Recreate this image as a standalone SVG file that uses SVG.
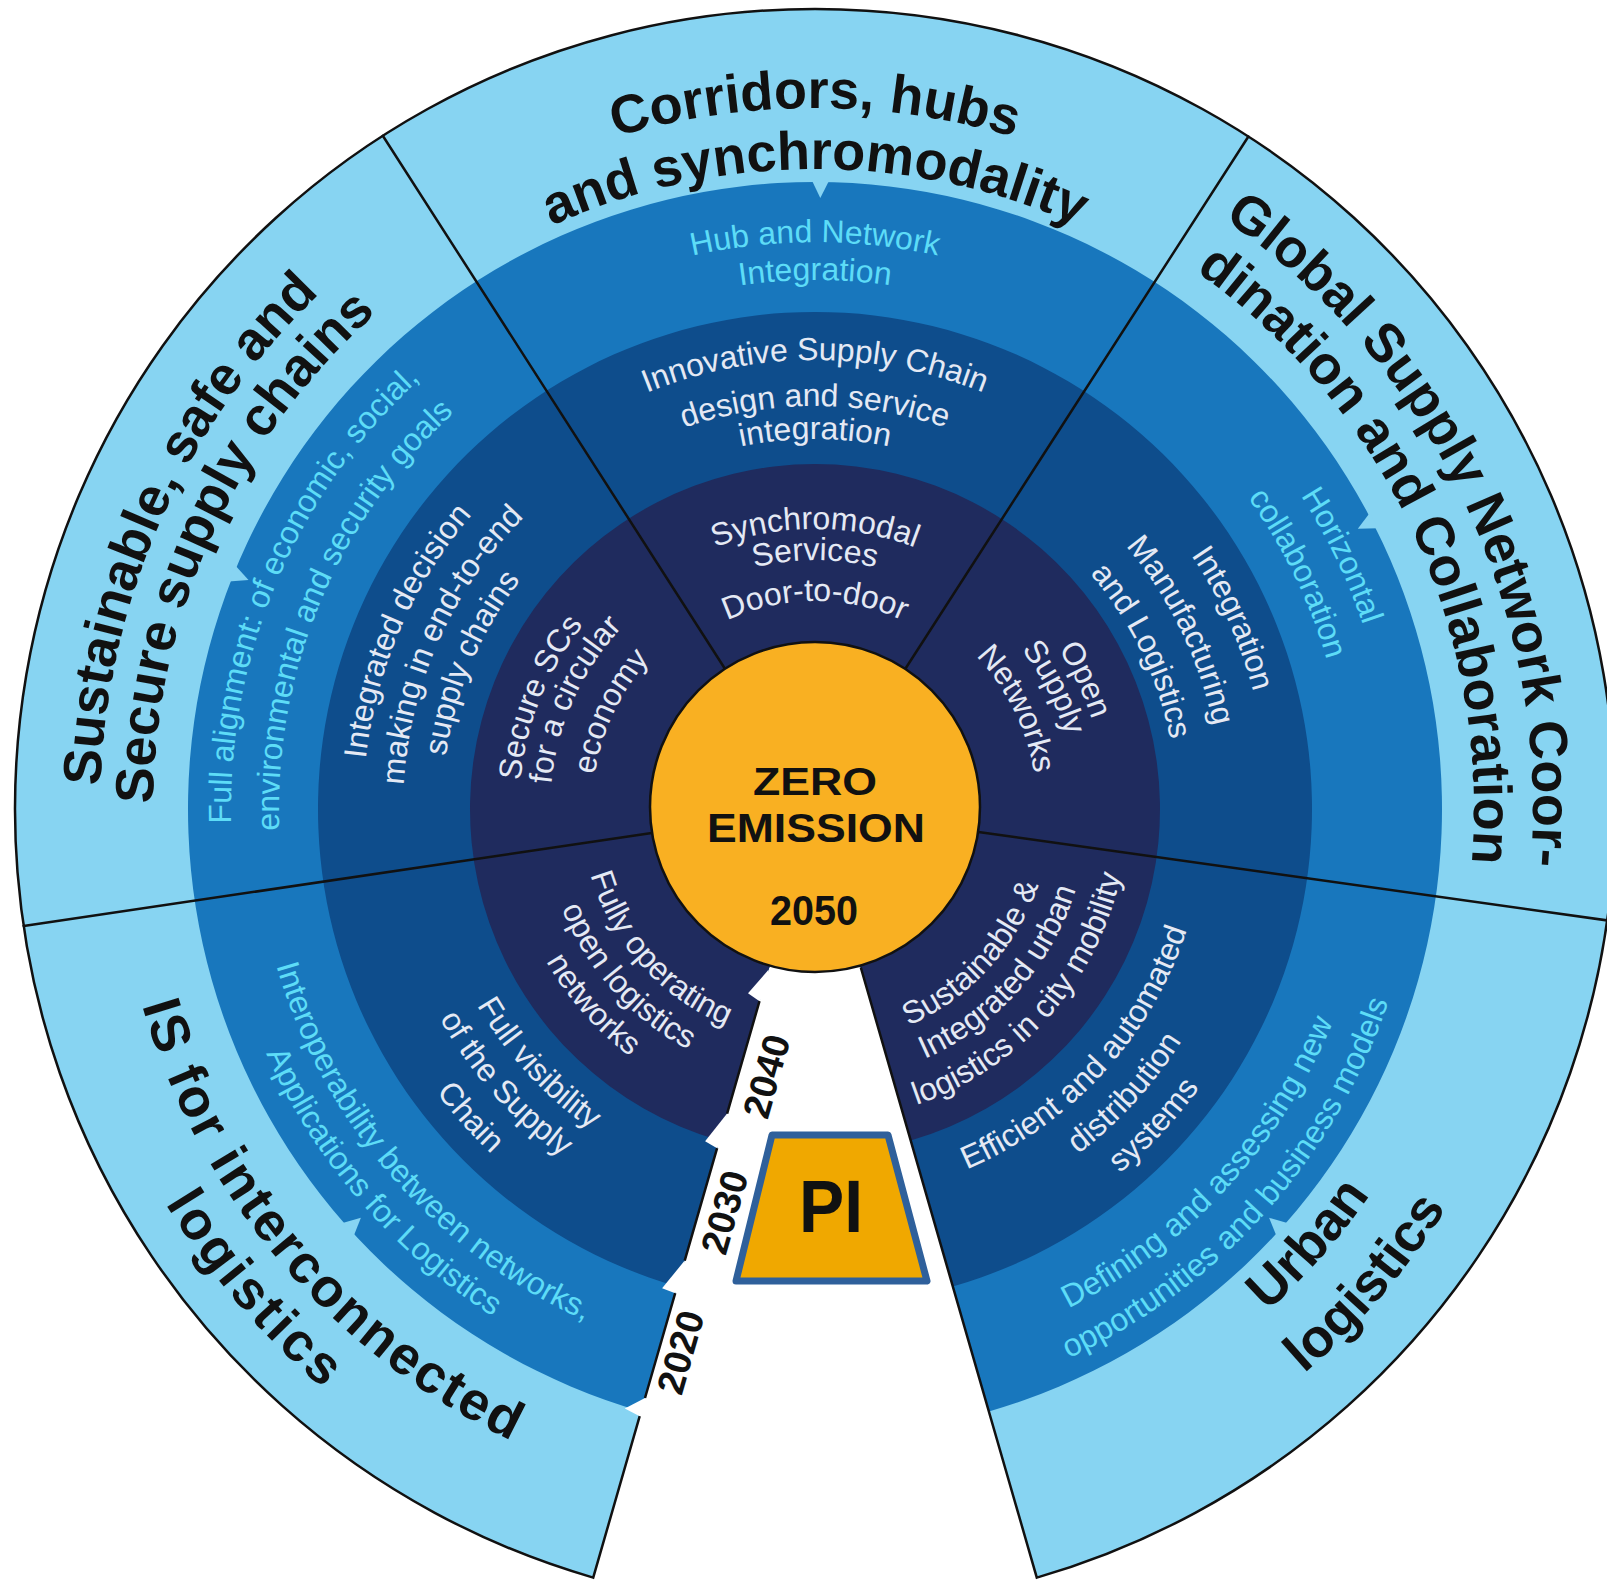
<svg xmlns="http://www.w3.org/2000/svg" xmlns:xlink="http://www.w3.org/1999/xlink" width="1607" height="1587" viewBox="0 0 1607 1587">
<style>
.ob{font-family:"Liberation Sans",Arial,sans-serif;font-weight:bold;font-size:54px;fill:#111;text-anchor:middle}
.cy{font-family:"Liberation Sans",Arial,sans-serif;font-size:32px;fill:#5ddcf7;text-anchor:middle}
.wh{font-family:"Liberation Sans",Arial,sans-serif;font-size:32px;fill:#e4e9f4;text-anchor:middle}
.yr{font-family:"Liberation Sans",Arial,sans-serif;font-weight:bold;font-size:38px;fill:#111;text-anchor:middle}
.ctr{font-family:"Liberation Sans",Arial,sans-serif;font-weight:bold;fill:#111;text-anchor:middle}
.dv{stroke:#111;stroke-width:2.5;fill:none;stroke-linecap:round}
.edge{stroke:#111;stroke-width:2.5;fill:none}
</style>
<defs>
<path id="o701" d="M-701 0A701 701 0 0 1 701 0"/>
<path id="o640" d="M-640 0A640 640 0 0 1 640 0"/>
<path id="o718" d="M-718 0A718 718 0 0 1 718 0"/>
<path id="o659" d="M-659 0A659 659 0 0 1 659 0"/>
<path id="o715" d="M-715 0A715 715 0 0 1 715 0"/>
<path id="o662" d="M-662 0A662 662 0 0 1 662 0"/>
<path id="o567" d="M-567 0A567 567 0 0 1 567 0"/>
<path id="o529" d="M-529 0A529 529 0 0 1 529 0"/>
<path id="o584" d="M-584 0A584 584 0 0 1 584 0"/>
<path id="o536" d="M-536 0A536 536 0 0 1 536 0"/>
<path id="o578" d="M-578 0A578 578 0 0 1 578 0"/>
<path id="o533" d="M-533 0A533 533 0 0 1 533 0"/>
<path id="o449" d="M-449 0A449 449 0 0 1 449 0"/>
<path id="o403" d="M-403 0A403 403 0 0 1 403 0"/>
<path id="o370" d="M-370 0A370 370 0 0 1 370 0"/>
<path id="o452" d="M-452 0A452 452 0 0 1 452 0"/>
<path id="o412" d="M-412 0A412 412 0 0 1 412 0"/>
<path id="o373" d="M-373 0A373 373 0 0 1 373 0"/>
<path id="o454" d="M-454 0A454 454 0 0 1 454 0"/>
<path id="o407" d="M-407 0A407 407 0 0 1 407 0"/>
<path id="o362" d="M-362 0A362 362 0 0 1 362 0"/>
<path id="o280" d="M-280 0A280 280 0 0 1 280 0"/>
<path id="o249" d="M-249 0A249 249 0 0 1 249 0"/>
<path id="o208" d="M-208 0A208 208 0 0 1 208 0"/>
<path id="o296" d="M-296 0A296 296 0 0 1 296 0"/>
<path id="o265" d="M-265 0A265 265 0 0 1 265 0"/>
<path id="o223" d="M-223 0A223 223 0 0 1 223 0"/>
<path id="o291" d="M-291 0A291 291 0 0 1 291 0"/>
<path id="o261" d="M-261 0A261 261 0 0 1 261 0"/>
<path id="o222" d="M-222 0A222 222 0 0 1 222 0"/>
<path id="i676" d="M-676 0A676 676 0 0 0 676 0"/>
<path id="i747" d="M-747 0A747 747 0 0 0 747 0"/>
<path id="i701" d="M-701 0A701 701 0 0 0 701 0"/>
<path id="i760" d="M-760 0A760 760 0 0 0 760 0"/>
<path id="i560" d="M-560 0A560 560 0 0 0 560 0"/>
<path id="i605" d="M-605 0A605 605 0 0 0 605 0"/>
<path id="i561" d="M-561 0A561 561 0 0 0 561 0"/>
<path id="i601" d="M-601 0A601 601 0 0 0 601 0"/>
<path id="i391" d="M-391 0A391 391 0 0 0 391 0"/>
<path id="i434" d="M-434 0A434 434 0 0 0 434 0"/>
<path id="i475" d="M-475 0A475 475 0 0 0 475 0"/>
<path id="i430" d="M-430 0A430 430 0 0 0 430 0"/>
<path id="i473" d="M-473 0A473 473 0 0 0 473 0"/>
<path id="i236" d="M-236 0A236 236 0 0 0 236 0"/>
<path id="i273" d="M-273 0A273 273 0 0 0 273 0"/>
<path id="i313" d="M-313 0A313 313 0 0 0 313 0"/>
<path id="i234" d="M-234 0A234 234 0 0 0 234 0"/>
<path id="i272" d="M-272 0A272 272 0 0 0 272 0"/>
<path id="i309" d="M-309 0A309 309 0 0 0 309 0"/>
</defs>
<rect width="1607" height="1587" fill="#ffffff"/>
<g id="rings">
<path id="ring-outer" d="M815 809L1036.8 1577.6A800 800 0 1 0 593.2 1577.6Z" fill="#87d4f2"/>
<path id="ring-2020" d="M815 809L988.9 1411.4A627 627 0 1 0 641.1 1411.4Z" fill="#1877bd"/>
<path id="ring-2030" d="M815 809L952.8 1286.5A497 497 0 1 0 677.2 1286.5Z" fill="#0e4d8c"/>
<path id="ring-2040" d="M815 809L910.7 1140.5A345 345 0 1 0 719.3 1140.5Z" fill="#1f2b5e"/>
<g id="ring-notches" fill="#87d4f2">
<polygon points="811.7,180 820.3,198 829.3,180.2"/>
<polygon points="1369.9,512.7 1357.8,528.8 1377.9,528.3"/>
<polygon points="1288.2,1223.3 1269.1,1217.8 1276.6,1236.3"/>
<polygon points="353.5,1236.4 360.9,1217.8 341.7,1223.2"/>
<polygon points="228.6,581.5 248.5,580.1 235.1,565.2"/>
</g>
<g fill="#ffffff">
<polygon points="768.7,969.5 748,993.2 759.5,1001.2 767,990"/>
<polygon points="727.1,1113.6 705.1,1141.3 717.1,1148.2 726,1133"/>
<polygon points="684.7,1260.6 662.1,1288.2 675.2,1293.2 684,1278"/>
<polygon points="645,1398 624.8,1408.6 639.7,1416.2 646,1408"/>
</g>
<path class="edge" d="M759.5 1001.2L727.1 1113.6M717.1 1148.2L684.7 1260.6M675.2 1293.2L645 1398"/>
<path class="edge" stroke-width="3" stroke-linejoin="miter" d="M639.7 1416.2L593.2 1577.6A800 800 0 1 1 1036.8 1577.6L860.8 967.5"/>
</g>
<g id="dividers" class="dv">
<line x1="725.9" y1="670.2" x2="382.8" y2="135.8"/>
<line x1="904.4" y1="670.3" x2="1248.4" y2="136.5"/>
<line x1="651.8" y1="833.1" x2="23.6" y2="925.9"/>
<line x1="978.4" y1="832" x2="1607.2" y2="920.4"/>
</g>
<g id="center">
<circle cx="815" cy="807" r="165" fill="#f9b022" stroke="#111" stroke-width="2.5"/>
<text class="ctr" x="815" y="795" font-size="39" textLength="124" lengthAdjust="spacingAndGlyphs">ZERO</text>
<text class="ctr" x="816" y="842" font-size="40" textLength="218" lengthAdjust="spacingAndGlyphs">EMISSION</text>
<text class="ctr" x="814" y="925" font-size="42" textLength="88" lengthAdjust="spacingAndGlyphs">2050</text>
</g>
<g id="sector-top">
<text class="ob" transform="translate(815 809)"><textPath href="#o701" xlink:href="#o701" startOffset="50%">Corridors, hubs</textPath></text>
<text class="ob" transform="translate(815 809)"><textPath href="#o640" xlink:href="#o640" startOffset="50%">and synchromodality</textPath></text>
<text class="cy" transform="translate(815 809)"><textPath href="#o567" xlink:href="#o567" startOffset="50%">Hub and Network</textPath></text>
<text class="cy" transform="translate(815 809)"><textPath href="#o529" xlink:href="#o529" startOffset="50%">Integration</textPath></text>
<text class="wh" transform="translate(815 809)"><textPath href="#o449" xlink:href="#o449" startOffset="50%">Innovative Supply Chain</textPath></text>
<text class="wh" transform="translate(815 809)"><textPath href="#o403" xlink:href="#o403" startOffset="50%">design and service</textPath></text>
<text class="wh" transform="translate(815 809)"><textPath href="#o370" xlink:href="#o370" startOffset="50%">integration</textPath></text>
<text class="wh" transform="translate(815 809)"><textPath href="#o280" xlink:href="#o280" startOffset="50%">Synchromodal</textPath></text>
<text class="wh" transform="translate(815 809)"><textPath href="#o249" xlink:href="#o249" startOffset="50%">Services</textPath></text>
<text class="wh" transform="translate(815 809)"><textPath href="#o208" xlink:href="#o208" startOffset="50%">Door-to-door</textPath></text>
</g>
<g id="sector-upper-right">
<text class="ob" transform="translate(815 809) rotate(64.6)"><textPath href="#o718" xlink:href="#o718" startOffset="50%">Global Supply Network Coor-</textPath></text>
<text class="ob" transform="translate(815 809) rotate(65)"><textPath href="#o659" xlink:href="#o659" startOffset="50%">dination and Collaboration</textPath></text>
<text class="cy" transform="translate(815 809) rotate(64.3)"><textPath href="#o578" xlink:href="#o578" startOffset="50%">Horizontal</textPath></text>
<text class="cy" transform="translate(815 809) rotate(64)"><textPath href="#o533" xlink:href="#o533" startOffset="50%">collaboration</textPath></text>
<text class="wh" transform="translate(815 809) rotate(65.5)"><textPath href="#o454" xlink:href="#o454" startOffset="50%">Integration</textPath></text>
<text class="wh" transform="translate(815 809) rotate(64)"><textPath href="#o407" xlink:href="#o407" startOffset="50%">Manufacturing</textPath></text>
<text class="wh" transform="translate(815 809) rotate(64.2)"><textPath href="#o362" xlink:href="#o362" startOffset="50%">and Logistics</textPath></text>
<text class="wh" transform="translate(815 809) rotate(64.4)"><textPath href="#o291" xlink:href="#o291" startOffset="50%">Open</textPath></text>
<text class="wh" transform="translate(815 809) rotate(63)"><textPath href="#o261" xlink:href="#o261" startOffset="50%">Supply</textPath></text>
<text class="wh" transform="translate(815 809) rotate(63.6)"><textPath href="#o222" xlink:href="#o222" startOffset="50%">Networks</textPath></text>
</g>
<g id="sector-upper-left">
<text class="ob" transform="translate(815 809) rotate(-66)"><textPath href="#o715" xlink:href="#o715" startOffset="50%">Sustainable, safe and</textPath></text>
<text class="ob" transform="translate(815 809) rotate(-65.5)"><textPath href="#o662" xlink:href="#o662" startOffset="50%">Secure supply chains</textPath></text>
<text class="cy" transform="translate(815 809) rotate(-67)"><textPath href="#o584" xlink:href="#o584" startOffset="50%">Full alignment: of economic, social,</textPath></text>
<text class="cy" transform="translate(815 809) rotate(-67.3)"><textPath href="#o536" xlink:href="#o536" startOffset="50%">environmental and security goals</textPath></text>
<text class="wh" transform="translate(815 809) rotate(-66.5)"><textPath href="#o452" xlink:href="#o452" startOffset="50%">Integrated decision</textPath></text>
<text class="wh" transform="translate(815 809) rotate(-65.8)"><textPath href="#o412" xlink:href="#o412" startOffset="50%">making in end-to-end</textPath></text>
<text class="wh" transform="translate(815 809) rotate(-67)"><textPath href="#o373" xlink:href="#o373" startOffset="50%">supply chains</textPath></text>
<text class="wh" transform="translate(815 809) rotate(-68)"><textPath href="#o296" xlink:href="#o296" startOffset="50%">Secure SCs</textPath></text>
<text class="wh" transform="translate(815 809) rotate(-65.6)"><textPath href="#o265" xlink:href="#o265" startOffset="50%">for a circular</textPath></text>
<text class="wh" transform="translate(815 809) rotate(-64.5)"><textPath href="#o223" xlink:href="#o223" startOffset="50%">economy</textPath></text>
</g>
<g id="sector-lower-right">
<text class="ob" transform="translate(815 809) rotate(-48.6)"><textPath href="#i676" xlink:href="#i676" startOffset="50%">Urban</textPath></text>
<text class="ob" transform="translate(815 809) rotate(-49.3)"><textPath href="#i747" xlink:href="#i747" startOffset="50%">logistics</textPath></text>
<text class="cy" transform="translate(815 809) rotate(-47.3)"><textPath href="#i560" xlink:href="#i560" startOffset="50%">Defining and assessing new</textPath></text>
<text class="cy" transform="translate(815 809) rotate(-48.1)"><textPath href="#i605" xlink:href="#i605" startOffset="50%">opportunities and business models</textPath></text>
<text class="wh" transform="translate(815 809) rotate(-47.4)"><textPath href="#i391" xlink:href="#i391" startOffset="50%">Efficient and automated</textPath></text>
<text class="wh" transform="translate(815 809) rotate(-47.5)"><textPath href="#i434" xlink:href="#i434" startOffset="50%">distribution</textPath></text>
<text class="wh" transform="translate(815 809) rotate(-47)"><textPath href="#i475" xlink:href="#i475" startOffset="50%">systems</textPath></text>
<text class="wh" transform="translate(815 809) rotate(-47.3)"><textPath href="#i236" xlink:href="#i236" startOffset="50%">Sustainable &amp;</textPath></text>
<text class="wh" transform="translate(815 809) rotate(-48.3)"><textPath href="#i273" xlink:href="#i273" startOffset="50%">Integrated urban</textPath></text>
<text class="wh" transform="translate(815 809) rotate(-48.4)"><textPath href="#i313" xlink:href="#i313" startOffset="50%">logistics in city mobility</textPath></text>
</g>
<g id="sector-lower-left">
<text class="ob" transform="translate(815 809) rotate(49.6)" letter-spacing="2.4"><textPath href="#i701" xlink:href="#i701" startOffset="50%">IS for interconnected</textPath></text>
<text class="ob" transform="translate(815 809) rotate(49.4)" letter-spacing="3.2"><textPath href="#i760" xlink:href="#i760" startOffset="50%">logistics</textPath></text>
<text class="cy" transform="translate(815 809) rotate(49)"><textPath href="#i561" xlink:href="#i561" startOffset="50%">Interoperability between networks,</textPath></text>
<text class="cy" transform="translate(815 809) rotate(49.2)"><textPath href="#i601" xlink:href="#i601" startOffset="50%">Applications for Logistics</textPath></text>
<text class="wh" transform="translate(815 809) rotate(47.4)"><textPath href="#i391" xlink:href="#i391" startOffset="50%">Full visibility</textPath></text>
<text class="wh" transform="translate(815 809) rotate(48.4)"><textPath href="#i430" xlink:href="#i430" startOffset="50%">of the Supply</textPath></text>
<text class="wh" transform="translate(815 809) rotate(48.2)"><textPath href="#i473" xlink:href="#i473" startOffset="50%">Chain</textPath></text>
<text class="wh" transform="translate(815 809) rotate(48)"><textPath href="#i234" xlink:href="#i234" startOffset="50%">Fully operating</textPath></text>
<text class="wh" transform="translate(815 809) rotate(48.2)"><textPath href="#i272" xlink:href="#i272" startOffset="50%">open logistics</textPath></text>
<text class="wh" transform="translate(815 809) rotate(48.6)"><textPath href="#i309" xlink:href="#i309" startOffset="50%">networks</textPath></text>
</g>
<g id="years">
<text class="yr" transform="translate(766 1076) rotate(-74)" y="13.6">2040</text>
<text class="yr" transform="translate(724 1212) rotate(-74)" y="13.6">2030</text>
<text class="yr" transform="translate(680 1352) rotate(-74)" y="13.6">2020</text>
</g>
<g id="pi">
<path d="M772 1135L888 1135L927 1281L736 1281Z" fill="#f0a800" stroke="#2f609b" stroke-width="7" stroke-linejoin="round"/>
<text class="ctr" x="831" y="1232" font-size="74" textLength="64" lengthAdjust="spacingAndGlyphs">PI</text>
</g>
</svg>
